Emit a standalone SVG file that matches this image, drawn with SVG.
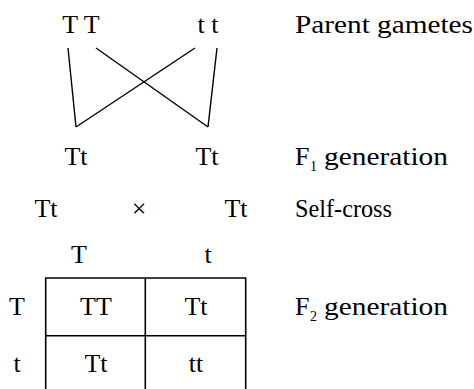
<svg xmlns="http://www.w3.org/2000/svg" width="474" height="389" viewBox="0 0 474 389">
<style>
.t{font-family:'Liberation Serif',serif;font-size:26px}
.m{font-family:'Liberation Serif',serif;font-size:26px;text-anchor:middle}
.sub{font-family:'Liberation Serif',serif;font-size:14px}
.ln{stroke:#000;stroke-width:1.4;fill:none}
.grid{stroke:#000;stroke-width:1.6;fill:none}
</style>
<rect width="474" height="389" fill="#fff"/>
<g id="parent-TT"><text class="m" x="81" y="33">T T</text></g>
<g id="parent-tt"><text class="m" x="208" y="33">t t</text></g>
<g id="label-parent"><text class="t" x="295" y="33" textLength="178" lengthAdjust="spacingAndGlyphs">Parent gametes</text></g>
<g id="connectors">
<line class="ln" x1="68" y1="48" x2="76" y2="127"/>
<line class="ln" x1="96" y1="48" x2="208" y2="127"/>
<line class="ln" x1="195" y1="48" x2="76" y2="127"/>
<line class="ln" x1="217" y1="48" x2="208" y2="127"/>
</g>
<g id="f1-left"><text class="m" x="76" y="165">Tt</text></g>
<g id="f1-right"><text class="m" x="207" y="165">Tt</text></g>
<g id="label-f1"><text class="t" x="295" y="165">F</text><text class="sub" x="310" y="171">1</text><text class="t" x="324" y="165" textLength="124" lengthAdjust="spacingAndGlyphs">generation</text></g>
<g id="cross-left"><text class="m" x="46" y="217">Tt</text></g>
<g id="cross-x"><text class="m" x="139" y="217">&#215;</text></g>
<g id="cross-right"><text class="m" x="236" y="217">Tt</text></g>
<g id="label-self"><text class="t" x="295" y="217" textLength="97" lengthAdjust="spacingAndGlyphs">Self-cross</text></g>
<g id="punnett">
<text class="m" x="79" y="263">T</text>
<text class="m" x="208" y="263">t</text>
<text class="m" x="17" y="315">T</text>
<text class="m" x="17" y="372">t</text>
<path class="grid" d="M45.7 394V278H245.7V394M145.3 278V394M45.7 335.7H245.7"/>
<text class="m" x="96" y="315">TT</text>
<text class="m" x="196" y="315">Tt</text>
<text class="m" x="96" y="372">Tt</text>
<text class="m" x="196" y="372">tt</text>
</g>
<g id="label-f2"><text class="t" x="295" y="315">F</text><text class="sub" x="310" y="321">2</text><text class="t" x="324" y="315" textLength="124" lengthAdjust="spacingAndGlyphs">generation</text></g>
</svg>
